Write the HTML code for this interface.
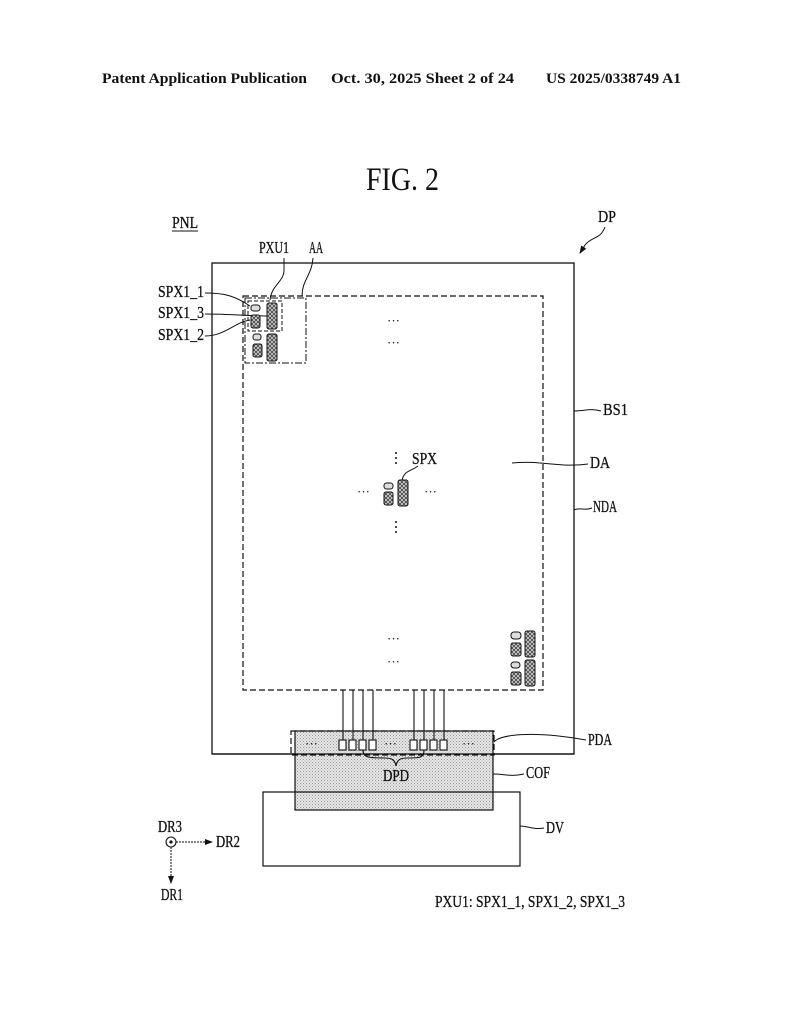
<!DOCTYPE html>
<html><head><meta charset="utf-8"><style>
html,body{margin:0;padding:0;background:#fff}
svg{display:block}
text{font-family:"Liberation Serif",serif;fill:#111}
</style></head><body>
<svg width="794" height="1024" viewBox="0 0 794 1024" xmlns="http://www.w3.org/2000/svg">
<defs>
<pattern id="hx" width="4" height="4" patternUnits="userSpaceOnUse">
<rect width="4" height="4" fill="#ccc"/>
<path d="M0,0L4,4M4,0L0,4" stroke="#333" stroke-width="0.7"/>
</pattern>
<pattern id="dot" width="3" height="3" patternUnits="userSpaceOnUse">
<rect width="3" height="3" fill="#e6e6e6"/>
<rect x="0" y="0" width="1" height="1" fill="#999"/>
<rect x="1.5" y="1.5" width="1" height="1" fill="#aaa"/>
</pattern>
<marker id="ar" markerWidth="8" markerHeight="6" refX="7" refY="3" orient="auto" markerUnits="userSpaceOnUse">
<path d="M0,0L8,3L0,6z" fill="#111"/>
</marker>
</defs>

<g font-weight="bold" font-size="15">
<text x="102" y="83" textLength="205" lengthAdjust="spacingAndGlyphs">Patent Application Publication</text>
<text x="331" y="83" textLength="183" lengthAdjust="spacingAndGlyphs">Oct. 30, 2025  Sheet 2 of 24</text>
<text x="546" y="83" textLength="135" lengthAdjust="spacingAndGlyphs">US 2025/0338749 A1</text>
</g>
<text x="366" y="190" font-size="33" textLength="73" lengthAdjust="spacingAndGlyphs">FIG. 2</text>

<g font-size="17" stroke="#111" stroke-width="0.3">
<text x="172" y="228" textLength="26" lengthAdjust="spacingAndGlyphs">PNL</text>
<text x="598" y="222" textLength="18" lengthAdjust="spacingAndGlyphs">DP</text>
<text x="259" y="253" textLength="30" lengthAdjust="spacingAndGlyphs">PXU1</text>
<text x="309" y="253" textLength="14" lengthAdjust="spacingAndGlyphs">AA</text>
<text x="158" y="297" textLength="46" lengthAdjust="spacingAndGlyphs">SPX1_1</text>
<text x="158" y="318" textLength="46" lengthAdjust="spacingAndGlyphs">SPX1_3</text>
<text x="158" y="340" textLength="46" lengthAdjust="spacingAndGlyphs">SPX1_2</text>
<text x="603" y="415" textLength="25" lengthAdjust="spacingAndGlyphs">BS1</text>
<text x="590" y="468" textLength="20" lengthAdjust="spacingAndGlyphs">DA</text>
<text x="593" y="512" textLength="24" lengthAdjust="spacingAndGlyphs">NDA</text>
<text x="412" y="464" textLength="25" lengthAdjust="spacingAndGlyphs">SPX</text>
<text x="588" y="745" textLength="24" lengthAdjust="spacingAndGlyphs">PDA</text>
<text x="526" y="778" textLength="24" lengthAdjust="spacingAndGlyphs">COF</text>
<text x="546" y="833" textLength="18" lengthAdjust="spacingAndGlyphs">DV</text>
<text x="158" y="832" textLength="24" lengthAdjust="spacingAndGlyphs">DR3</text>
<text x="216" y="847" textLength="24" lengthAdjust="spacingAndGlyphs">DR2</text>
<text x="161" y="900" textLength="22" lengthAdjust="spacingAndGlyphs">DR1</text>
<text x="435" y="907" textLength="190" lengthAdjust="spacingAndGlyphs">PXU1: SPX1_1, SPX1_2, SPX1_3</text>
</g>
<line x1="172" y1="231" x2="198" y2="231" stroke="#111"/>

<g fill="none" stroke="#111" stroke-width="1">
<path d="M605,227 C600,240 592,236 585,245" />
<path d="M585,245 L580,253" marker-end="url(#ar)"/>
<rect x="212" y="263" width="362" height="491" stroke-width="1.3"/>
<rect x="243" y="296" width="300" height="394" stroke-dasharray="6,3" stroke-width="1.2"/>
<rect x="245" y="298" width="61" height="65" stroke-dasharray="7,2,2,2" stroke-width="1"/>
<rect x="248" y="301" width="34" height="30" stroke-dasharray="4,2" stroke-width="1"/>
<path d="M284,258 L284,270 C284,282 272,284 270,300"/>
<path d="M313,258 C312,275 302,280 302,296"/>
<path d="M205,293 C225,293 235,296 250,306"/>
<path d="M205,314 C230,314 250,316 268,316"/>
<path d="M205,336 C225,336 235,322 250,320"/>
<path d="M574,411 C585,411 590,408 601,411"/>
<path d="M512,463 C540,460 560,468 588,464"/>
<path d="M574,510 C580,507 585,511 592,508"/>
<path d="M402,480 C405,470 410,472 418,466"/>
<path d="M494,742 C500,735 530,730 586,740"/>
<path d="M493,774 C505,774 510,777 524,774"/>
<path d="M520,826 C528,826 534,830 544,828"/>
</g>

<rect x="295" y="731" width="198" height="79" fill="url(#dot)" stroke="#111" stroke-width="1.2"/>
<rect x="263" y="792" width="257" height="74" fill="none" stroke="#111" stroke-width="1.2"/>
<rect x="291" y="731" width="203" height="24" fill="none" stroke="#111" stroke-dasharray="6,3" stroke-width="1.2"/>
<line x1="212" y1="754" x2="574" y2="754" stroke="#111" stroke-width="1.3"/>

<g stroke="#111" stroke-width="1.1" fill="#fff">
<line x1="343" y1="690" x2="343" y2="740"/><line x1="353" y1="690" x2="353" y2="740"/>
<line x1="363" y1="690" x2="363" y2="740"/><line x1="373" y1="690" x2="373" y2="740"/>
<line x1="414" y1="690" x2="414" y2="740"/><line x1="424" y1="690" x2="424" y2="740"/>
<line x1="434" y1="690" x2="434" y2="740"/><line x1="444" y1="690" x2="444" y2="740"/>
<rect x="339" y="740" width="7" height="10"/><rect x="349" y="740" width="7" height="10"/>
<rect x="359" y="740" width="7" height="10"/><rect x="369" y="740" width="7" height="10"/>
<rect x="410" y="740" width="7" height="10"/><rect x="420" y="740" width="7" height="10"/>
<rect x="430" y="740" width="7" height="10"/><rect x="440" y="740" width="7" height="10"/>
<path d="M363,750 C363,758 370,758 385,758 C392,758 395,760 396,766 C397,760 400,758 407,758 C420,758 424,758 424,750" fill="none"/>
</g>
<text x="383" y="781" font-size="17" stroke="#111" stroke-width="0.3" textLength="26" lengthAdjust="spacingAndGlyphs">DPD</text>

<g font-size="13" fill="#111">
<text x="387" y="325">···</text><text x="387" y="347">···</text>
<text x="387" y="643">···</text><text x="387" y="666">···</text>
<text x="357" y="496">···</text><text x="424" y="496">···</text>
<text x="305" y="748">···</text><text x="384" y="748">···</text><text x="462" y="748">···</text>
</g>
<g fill="#111">
<circle cx="396" cy="453" r="1"/><circle cx="396" cy="458" r="1"/><circle cx="396" cy="463" r="1"/>
<circle cx="396" cy="522" r="1"/><circle cx="396" cy="527" r="1"/><circle cx="396" cy="532" r="1"/>
</g>

<g stroke="#111" stroke-width="1">
<rect x="251" y="305" width="9" height="6" rx="2.5" fill="#ddd"/>
<rect x="251" y="315" width="9" height="13" rx="2" fill="url(#hx)"/>
<rect x="267" y="303" width="10" height="26" rx="2" fill="url(#hx)"/>
<rect x="253" y="334" width="8" height="6" rx="2.5" fill="#ddd"/>
<rect x="253" y="344" width="9" height="13" rx="2" fill="url(#hx)"/>
<rect x="267" y="334" width="10" height="27" rx="2" fill="url(#hx)"/>
<rect x="384" y="483" width="9" height="6" rx="2.5" fill="#ddd"/>
<rect x="384" y="492" width="9" height="13" rx="2" fill="url(#hx)"/>
<rect x="398" y="480" width="10" height="26" rx="2" fill="url(#hx)"/>
<rect x="511" y="632" width="10" height="7" rx="3" fill="#ddd"/>
<rect x="511" y="643" width="10" height="13" rx="2" fill="url(#hx)"/>
<rect x="525" y="631" width="10" height="26" rx="2" fill="url(#hx)"/>
<rect x="511" y="662" width="9" height="6" rx="3" fill="#ddd"/>
<rect x="511" y="672" width="10" height="13" rx="2" fill="url(#hx)"/>
<rect x="525" y="660" width="10" height="26" rx="2" fill="url(#hx)"/>
</g>

<circle cx="171" cy="842" r="5" fill="none" stroke="#111" stroke-width="1.1"/>
<circle cx="171" cy="842" r="1.6" fill="#111"/>
<line x1="176" y1="842" x2="212" y2="842" stroke="#111" stroke-dasharray="2,1" marker-end="url(#ar)"/>
<line x1="171" y1="847" x2="171" y2="883" stroke="#111" stroke-dasharray="2,1" marker-end="url(#ar)"/>
</svg>
</body></html>
